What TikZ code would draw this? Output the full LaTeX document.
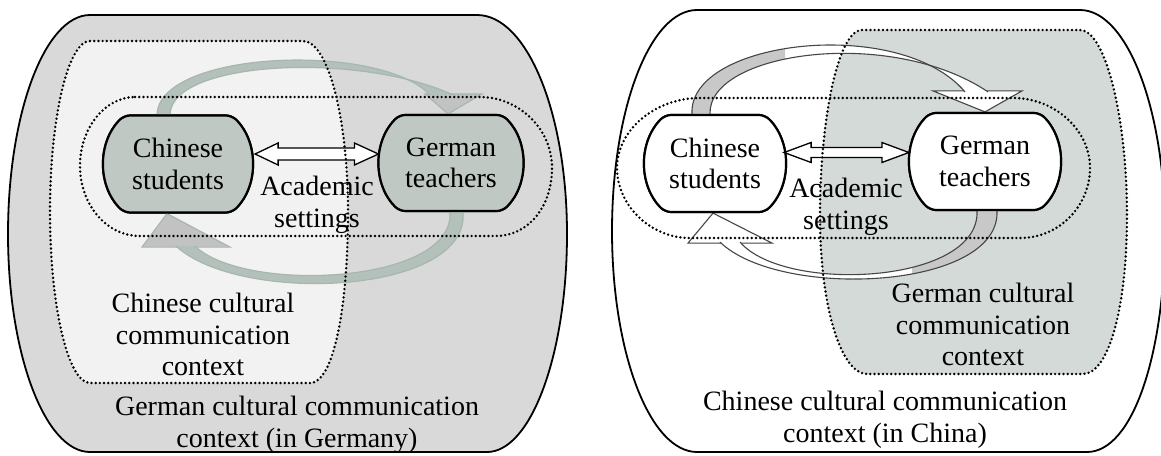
\documentclass[tikz,border=0pt]{standalone}
\usepackage{fontspec}
\setmainfont{Liberation Serif}
\usetikzlibrary{shapes.misc,calc}
\definecolor{outerL}{RGB}{217,217,217}
\definecolor{innerL}{RGB}{242,242,242}
\definecolor{boxL}{RGB}{192,200,196}
\definecolor{ctxR}{RGB}{212,218,215}
\definecolor{ribL}{RGB}{180,193,187}
\definecolor{ribLedge}{RGB}{166,183,175}
\definecolor{headL}{RGB}{194,194,194}
\definecolor{ribRedge}{RGB}{70,70,70}
\definecolor{ribRgray}{RGB}{200,200,200}
\tikzset{
  every node/.style={font=\fontsize{28}{31.5}\selectfont, inner sep=0pt},
  agent/.style={rounded rectangle, rounded rectangle arc length=90, draw=black, line width=2.2pt, align=center, rounded corners=6pt},
  dotline/.style={line width=2.7pt, dash pattern=on 0pt off 4.2pt, line cap=round},
  outerline/.style={draw=black, line width=1.8pt},
  dblarrow/.style={draw=black, fill=white, line width=1.3pt, line join=miter},
  txt/.style={align=center, anchor=north},
  ribLfill/.style={fill=ribL},
  ribLline/.style={draw=ribLedge, line width=1.2pt},
  headLs/.style={fill=headL, draw=ribLedge, line width=1.2pt, line join=miter},
  ribRline/.style={draw=ribRedge, line width=1.1pt},
  headRs/.style={fill=white, draw=ribRedge, line width=1.1pt, line join=miter},
}
\begin{document}
\begin{tikzpicture}[x=1pt,y=-1pt]
\useasboundingbox (0,0) rectangle (1161,455);
\clip (0,0) rectangle (1161,455);

% ================= LEFT PANEL =================
\filldraw[fill=outerL, outerline] (90,15) -- (477,15) .. controls (527,15) and (567,113) .. (567,234) .. controls (567,354) and (531,452) .. (487,452) -- (90,452) .. controls (45,452) and (8,354) .. (8,234) .. controls (8,113) and (45,15) .. (90,15) -- cycle;
\def\CCLpath{(90,41) -- (303,41) .. controls (328,41) and (348,118) .. (348,212) .. controls (348,306) and (334,383) .. (310,383) -- (90,383) .. controls (68,383) and (50,306) .. (50,212) .. controls (50,118) and (68,41) .. (90,41) -- cycle}
\fill[innerL] \CCLpath;

\node[agent, fill=boxL, minimum width=148pt, minimum height=97pt] (csL) at (178,164) {Chinese\\students};
\node[agent, fill=boxL, minimum width=143pt, minimum height=96pt] (gtL) at (451,163) {German\\teachers};

% top curved arrow (students -> teachers)
\path[headLs] ($(gtL.north)+(-26,-20)$) -- ($(gtL.north)+(31,-20)$) -- ($(gtL.north)+(-3,0)$) -- cycle;
\def\TLouter{($(csL.north)+(-21,0)$) .. controls (160,50) and (380,42) .. ($(gtL.north)+(-21,-19)$)}
\def\TLinner{($(gtL.north)+(2,-19)$) .. controls (360,52) and (172,60) .. ($(csL.north)+(-8,0)$)}
\fill[ribLfill] \TLouter -- \TLinner -- cycle;
\draw[ribLline] \TLouter;
\draw[ribLline] \TLinner;

% bottom curved arrow (teachers -> students)
\path[headLs] ($(csL.south)+(-36,33.5)$) -- ($(csL.south)+(52,33.5)$) -- ($(csL.south)+(-11,0)$) -- cycle;
\def\BLouter{($(gtL.south)+(12,0)$) .. controls (470,295) and (240,305) .. ($(csL.south)+(-2,32.5)$)}
\def\BLinner{($(csL.south)+(17,32.5)$) .. controls (245,294) and (455,284) .. ($(gtL.south)+(-1,0)$)}
\fill[ribLfill] \BLouter -- \BLinner -- cycle;
\draw[ribLline] \BLouter;
\draw[ribLline] \BLinner;

% redraw boxes on top of arrow ends
\node[agent, fill=boxL, minimum width=148pt, minimum height=97pt] at (csL) {Chinese\\students};
\node[agent, fill=boxL, minimum width=143pt, minimum height=96pt] at (gtL) {German\\teachers};

% double arrow
\coordinate (aL) at ($(csL.east)+(2,-10)$);
\coordinate (bL) at ($(gtL.west)+(0,-9)$);
\path[dblarrow] (aL) -- ($(aL)+(23,-11)$) -- ($(aL)+(23,-6)$) -- ($(bL)+(-24,-6)$) -- ($(bL)+(-24,-11)$) -- (bL) -- ($(bL)+(-24,11)$) -- ($(bL)+(-24,6)$) -- ($(aL)+(23,6)$) -- ($(aL)+(23,11)$) -- cycle;

\node[txt] (acL) at (317,176) {Academic\\settings};
\node[txt] (cccL) at (203,293) {Chinese cultural\\communication\\context};
\node[txt] (gccL) at (297,396) {German cultural communication\\context (in Germany)};

\draw[dotline] \CCLpath;
\draw[dotline] (135,97) -- (480,97) .. controls (518,97) and (552,128) .. (552,168) .. controls (552,205) and (530,236) .. (495,236) -- (140,236) .. controls (105,236) and (80,203) .. (80,166) .. controls (80,128) and (105,97) .. (135,97) -- cycle;

% ================= RIGHT PANEL =================
\filldraw[fill=white, outerline] (697,10) -- (1080,10) .. controls (1127,10) and (1165,109) .. (1165,231) .. controls (1165,353) and (1133,452) .. (1087,452) -- (697,452) .. controls (650,452) and (612,353) .. (612,231) .. controls (612,109) and (650,10) .. (697,10) -- cycle;
\def\GCRpath{(862,30) -- (1080,30) .. controls (1106,30) and (1127,120) .. (1127,215) .. controls (1127,310) and (1108,374) .. (1083,374) -- (867,374) .. controls (842,374) and (820,310) .. (820,215) .. controls (820,120) and (838,30) .. (862,30) -- cycle}
\fill[ctxR] \GCRpath;

\node[agent, fill=white, minimum width=140pt, minimum height=97pt] (csR) at (715,163.5) {Chinese\\students};
\node[agent, fill=white, minimum width=150pt, minimum height=97pt] (gtR) at (985,161.5) {German\\teachers};

% top curved arrow
\path[headRs] ($(gtR.north)+(-52,-21)$) -- ($(gtR.north)+(37,-21)$) -- (gtR.north) -- cycle;
\def\TRouter{($(csR.north)+(-23,0)$) .. controls (688,40) and (900,15) .. ($(gtR.north)+(-20,-20)$)}
\def\TRinner{($(gtR.north)+(3,-20)$) .. controls (890,26) and (708,52) .. ($(csR.north)+(-5,0)$)}
\fill[white] \TRouter -- \TRinner -- cycle;
\begin{scope}
\clip (600,0) rectangle (785,200);
\fill[ribRgray] \TRouter -- \TRinner -- cycle;
\end{scope}
\draw[ribRline] \TRouter;
\draw[ribRline] \TRinner;

% bottom curved arrow
\path[headRs] ($(csR.south)+(-27,30)$) -- ($(csR.south)+(57,30)$) -- ($(csR.south)+(-2,0)$) -- cycle;
\def\BRouter{($(gtR.south)+(12,0)$) .. controls (1000,290) and (780,300) .. ($(csR.south)+(5,29)$)}
\def\BRinner{($(csR.south)+(25,29)$) .. controls (785,294) and (980,284) .. ($(gtR.south)+(-8,0)$)}
\fill[white] \BRouter -- \BRinner -- cycle;
\begin{scope}
\clip (912,200) rectangle (1161,300);
\fill[ribRgray] \BRouter -- \BRinner -- cycle;
\end{scope}
\draw[ribRline] \BRouter;
\draw[ribRline] \BRinner;

\node[agent, fill=white, minimum width=140pt, minimum height=97pt] at (csR) {Chinese\\students};
\node[agent, fill=white, minimum width=150pt, minimum height=97pt] at (gtR) {German\\teachers};

\coordinate (aR) at ($(csR.east)+(-2,-11)$);
\coordinate (bR) at ($(gtR.west)+(0,-9)$);
\path[dblarrow] (aR) -- ($(aR)+(27,-10)$) -- ($(aR)+(27,-5)$) -- ($(bR)+(-27,-5)$) -- ($(bR)+(-27,-10)$) -- (bR) -- ($(bR)+(-27,10)$) -- ($(bR)+(-27,5)$) -- ($(aR)+(27,5)$) -- ($(aR)+(27,10)$) -- cycle;

\node[txt] (acR) at (846,178) {Academic\\settings};
\node[txt] (gccR) at (983,283) {German cultural\\communication\\context};
\node[txt] (cccR) at (885,391) {Chinese cultural communication\\context (in China)};

\draw[dotline] \GCRpath;
\draw[dotline] (700,98) -- (1013,98) .. controls (1055,98) and (1090,130) .. (1090,168) .. controls (1090,205) and (1060,238) .. (1020,238) -- (690,238) .. controls (650,238) and (617,205) .. (617,168) .. controls (617,130) and (655,98) .. (700,98) -- cycle;
\end{tikzpicture}
\end{document}
